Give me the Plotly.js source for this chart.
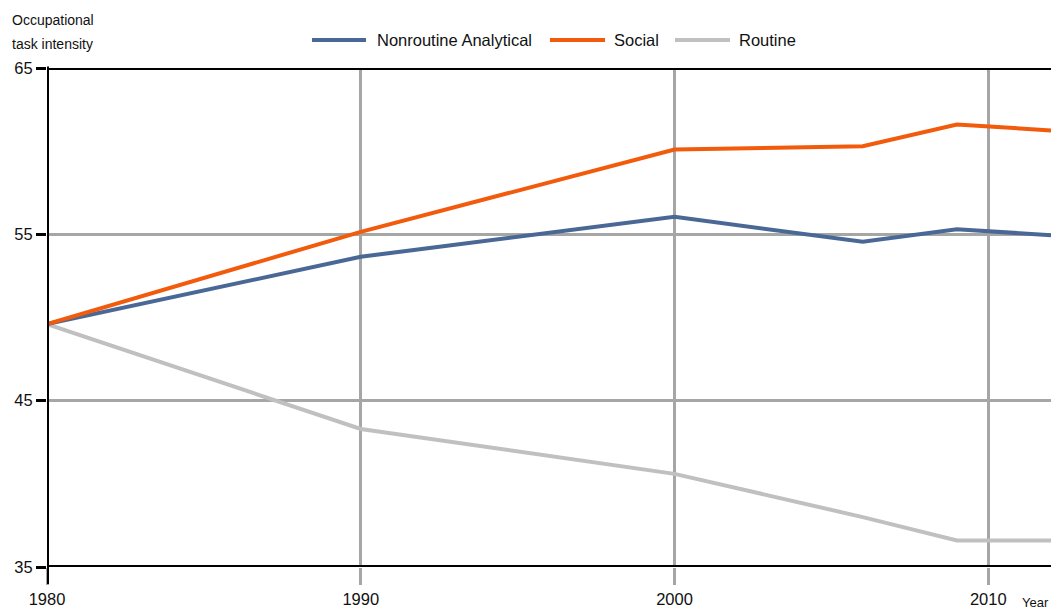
<!DOCTYPE html>
<html><head><meta charset="utf-8">
<script src="https://cdn.plot.ly/plotly-3.0.1.min.js"></script>
<style>html,body{margin:0;padding:0;background:#fff}#c{width:1053px;height:609px}</style>
</head><body><div id="c"></div>
<script>
const years = [1980, 1990, 2000, 2006, 2009, 2012];
const nonroutineAnalytical = [49.6, 53.65, 56.05, 54.55, 55.3, 54.95];
const social = [49.6, 55.15, 60.1, 60.3, 61.6, 61.25];
const routine = [49.6, 43.3, 40.6, 38.0, 36.6, 36.6];
const seriesNames = ['Nonroutine Analytical', 'Social', 'Routine'];
const seriesColors = ['#4a6896', '#f25a0c', '#c0c0c0'];
const xTicks = [1980, 1990, 2000, 2010];
const yTicks = [35, 45, 55, 65];

const F = 'Liberation Sans, Arial, sans-serif';
const W = 1053, H = 609, M = {l: 47, r: 2, t: 68, b: 42};
const pw = W - M.l - M.r, ph = H - M.t - M.b;
const px = v => (v - M.l) / pw;          // pixel x -> paper x
const py = v => (H - M.b - v) / ph;      // pixel y -> paper y

const traces = [
  {x: years, y: routine, name: seriesNames[2], mode: 'lines', line: {color: seriesColors[2], width: 4}},
  {x: years, y: nonroutineAnalytical, name: seriesNames[0], mode: 'lines', line: {color: seriesColors[0], width: 4}},
  {x: years, y: social, name: seriesNames[1], mode: 'lines', line: {color: seriesColors[1], width: 4}}
];

// manual legend geometry (pixels)
const legendItems = [
  {i: 0, x0: 312, x1: 366, tx: 375},
  {i: 1, x0: 550, x1: 605, tx: 612},
  {i: 2, x0: 675, x1: 730, tx: 737}
];
const legendY = 40;

const shapes = [
  {type: 'line', xref: 'paper', yref: 'y', x0: 0, x1: 1, y0: 65, y1: 65, line: {color: '#000', width: 4}},
  {type: 'line', xref: 'paper', yref: 'y', x0: 0, x1: 1, y0: 35, y1: 35, line: {color: '#000', width: 4}},
  {type: 'line', xref: 'x', yref: 'paper', x0: 1980, x1: 1980, y0: -0.034, y1: 1.003, line: {color: '#000', width: 4}}
];
const annotations = [
  {xref: 'paper', yref: 'paper', x: px(10), y: py(20), xanchor: 'left', yanchor: 'middle',
   text: 'Occupational', showarrow: false, font: {family: F, size: 14, color: '#111'}},
  {xref: 'paper', yref: 'paper', x: px(10), y: py(44), xanchor: 'left', yanchor: 'middle',
   text: 'task intensity', showarrow: false, font: {family: F, size: 14, color: '#111'}},
  {xref: 'paper', yref: 'paper', x: px(1020), y: py(602), xanchor: 'left', yanchor: 'middle',
   text: 'Year', showarrow: false, font: {family: F, size: 13, color: '#111'}}
];
legendItems.forEach(it => {
  shapes.push({type: 'line', xref: 'paper', yref: 'paper', x0: px(it.x0), x1: px(it.x1), y0: py(legendY), y1: py(legendY),
               line: {color: seriesColors[it.i], width: 4}});
  annotations.push({xref: 'paper', yref: 'paper', x: px(it.tx), y: py(legendY), xanchor: 'left', yanchor: 'middle',
                    text: seriesNames[it.i], showarrow: false, font: {family: F, size: 16.5, color: '#111'}});
});

const layout = {
  width: W, height: H,
  margin: M,
  paper_bgcolor: '#fff', plot_bgcolor: '#fff',
  font: {family: F, size: 16, color: '#111'},
  showlegend: false,
  xaxis: {range: [1980, 2012], tickvals: xTicks, ticktext: xTicks.map(String),
          showgrid: true, gridcolor: '#a6a6a6', gridwidth: 3, zeroline: false,
          ticks: 'outside', ticklen: 17, tickwidth: 3, tickcolor: '#a6a6a6',
          showline: false, tickfont: {family: F, size: 16.5, color: '#111'}, fixedrange: true},
  yaxis: {range: [35, 65], tickvals: yTicks, ticktext: yTicks.map(String),
          showgrid: true, gridcolor: '#a6a6a6', gridwidth: 3, zeroline: false,
          ticks: 'outside', ticklen: 10, tickwidth: 3, tickcolor: '#000',
          showline: false, tickfont: {family: F, size: 16.5, color: '#111'}, fixedrange: true},
  shapes: shapes,
  annotations: annotations
};
Plotly.newPlot('c', traces, layout, {displayModeBar: false, staticPlot: true});
</script></body></html>
